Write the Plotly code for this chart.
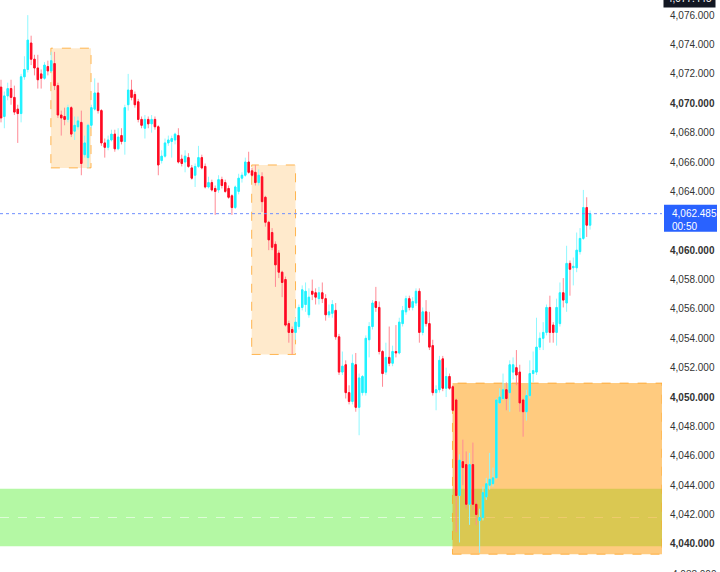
import plotly.graph_objects as go

# ---------------- data ----------------
OPEN = [4071.1, 4069.1, 4070.5, 4071.0, 4070.4, 4069.6, 4069.3, 4071.8, 4072.3, 4074.1,
        4073.0, 4072.4, 4072.0, 4071.7, 4072.5, 4072.2, 4072.7, 4071.2, 4069.2, 4069.1,
        4068.9, 4069.7, 4068.1, 4068.4, 4068.7, 4066.5, 4066.3, 4068.5, 4069.6, 4070.7,
        4069.5, 4067.3, 4067.0, 4067.5, 4067.9, 4066.9, 4067.8, 4067.4, 4069.9, 4070.9,
        4070.6, 4070.1, 4068.9, 4068.3, 4068.9, 4068.6, 4068.9, 4068.4, 4066.1, 4066.4,
        4067.3, 4067.4, 4067.5, 4067.8, 4066.2, 4066.0, 4066.3, 4065.6, 4065.1, 4065.7,
        4066.3, 4065.7, 4064.3, 4064.6, 4064.2, 4064.1, 4064.8, 4064.6, 4064.2, 4063.7,
        4062.9, 4064.0, 4064.9, 4065.1, 4066.0, 4065.4, 4065.3, 4064.6, 4065.0, 4063.6,
        4061.9, 4061.2, 4060.4, 4059.8, 4058.5, 4058.0, 4055.0, 4054.6, 4054.4, 4054.8,
        4056.1, 4056.3, 4055.6, 4057.2, 4057.1, 4056.7, 4057.1, 4056.7, 4055.6, 4055.7,
        4055.9, 4054.1, 4051.7, 4052.2, 4050.3, 4049.7, 4052.2, 4049.3, 4050.3, 4050.3,
        4053.9, 4054.8, 4056.5, 4056.1, 4053.1, 4051.7, 4052.7, 4052.3, 4053.1, 4053.0,
        4055.0, 4055.8, 4056.7, 4056.1, 4056.4, 4057.2, 4054.4, 4055.8, 4055.0, 4053.5,
        4050.3, 4050.5, 4052.6, 4050.6, 4051.4, 4050.7, 4049.8, 4043.3, 4045.6, 4045.4,
        4042.7, 4045.4, 4042.7, 4041.6, 4041.8, 4043.2, 4044.0, 4044.1, 4044.5, 4049.6,
        4049.9, 4050.5, 4050.3, 4051.7, 4052.0, 4051.7, 4049.8, 4049.0, 4050.1, 4051.6,
        4051.7, 4053.4, 4054.0, 4054.4, 4056.1, 4054.9, 4054.4, 4055.0, 4057.1, 4056.4,
        4059.1, 4058.8, 4058.8, 4059.9, 4060.8, 4062.9, 4061.7]

HIGH = [4071.6, 4070.8, 4071.4, 4071.6, 4071.2, 4069.9, 4072.0, 4073.2, 4076.0, 4074.6,
        4073.3, 4073.3, 4072.3, 4072.8, 4072.9, 4073.5, 4073.5, 4071.4, 4069.5, 4069.7,
        4069.9, 4069.8, 4069.1, 4069.1, 4069.5, 4067.8, 4068.6, 4069.9, 4071.7, 4071.4,
        4069.6, 4067.6, 4067.8, 4068.2, 4068.2, 4068.3, 4068.3, 4069.9, 4072.0, 4071.6,
        4070.8, 4070.3, 4069.1, 4069.2, 4069.1, 4069.2, 4069.1, 4068.5, 4066.8, 4067.6,
        4067.8, 4067.8, 4068.0, 4068.3, 4066.5, 4066.8, 4066.6, 4065.8, 4065.9, 4067.1,
        4066.5, 4065.9, 4065.0, 4064.8, 4064.4, 4065.1, 4065.0, 4064.8, 4064.4, 4063.8,
        4064.4, 4065.2, 4065.3, 4066.3, 4066.7, 4065.6, 4065.8, 4065.5, 4065.3, 4063.7,
        4062.0, 4061.5, 4060.6, 4060.0, 4058.6, 4058.2, 4055.2, 4054.8, 4055.4, 4056.3,
        4057.6, 4057.8, 4057.4, 4058.0, 4057.4, 4057.5, 4057.8, 4057.0, 4056.3, 4056.6,
        4056.4, 4054.3, 4053.1, 4052.5, 4050.8, 4052.9, 4053.0, 4051.6, 4051.5, 4054.2,
        4055.1, 4056.6, 4057.5, 4056.5, 4053.2, 4053.7, 4054.8, 4053.5, 4054.9, 4055.4,
        4056.2, 4056.9, 4056.9, 4056.8, 4057.4, 4057.4, 4056.1, 4056.6, 4055.8, 4053.9,
        4050.8, 4052.8, 4052.8, 4052.0, 4051.6, 4050.8, 4049.9, 4046.1, 4047.1, 4046.3,
        4046.2, 4046.9, 4043.0, 4042.4, 4043.9, 4044.5, 4046.2, 4045.2, 4049.9, 4050.6,
        4051.6, 4051.0, 4052.5, 4052.7, 4053.2, 4052.2, 4049.9, 4050.5, 4052.5, 4053.1,
        4055.4, 4054.4, 4055.1, 4056.3, 4056.9, 4055.1, 4056.7, 4057.8, 4058.1, 4060.3,
        4059.3, 4059.5, 4061.2, 4061.5, 4064.1, 4063.6, 4062.7]

LOW = [4068.7, 4068.3, 4070.2, 4069.9, 4069.2, 4067.3, 4068.7, 4071.6, 4072.1, 4072.6,
       4071.9, 4071.0, 4071.0, 4071.6, 4071.9, 4072.1, 4070.9, 4069.0, 4067.8, 4068.5,
       4068.7, 4067.7, 4067.5, 4068.2, 4065.1, 4066.3, 4065.6, 4068.3, 4069.5, 4069.3,
       4067.1, 4066.3, 4066.8, 4067.4, 4066.7, 4066.8, 4067.2, 4066.5, 4069.5, 4070.2,
       4069.7, 4068.7, 4068.3, 4067.6, 4068.3, 4068.0, 4068.2, 4065.1, 4065.9, 4066.3,
       4067.1, 4066.3, 4067.2, 4065.9, 4065.7, 4065.3, 4065.6, 4064.8, 4064.3, 4065.6,
       4065.5, 4064.2, 4064.2, 4064.0, 4062.4, 4063.9, 4064.2, 4063.9, 4063.5, 4062.4,
       4062.8, 4063.8, 4064.6, 4065.0, 4065.2, 4065.0, 4064.4, 4064.4, 4062.6, 4061.6,
       4060.0, 4060.0, 4057.5, 4058.1, 4056.8, 4054.8, 4053.7, 4052.9, 4053.9, 4054.6,
       4055.9, 4055.8, 4055.4, 4056.6, 4056.3, 4056.3, 4056.4, 4055.2, 4055.4, 4055.4,
       4053.9, 4051.5, 4051.5, 4049.9, 4049.5, 4049.5, 4049.0, 4047.4, 4050.1, 4050.1,
       4052.7, 4054.6, 4055.8, 4052.9, 4050.7, 4051.5, 4052.1, 4052.1, 4052.7, 4052.9,
       4054.8, 4055.6, 4055.9, 4055.9, 4056.2, 4053.7, 4054.2, 4054.8, 4053.2, 4050.1,
       4049.1, 4050.3, 4050.4, 4050.0, 4050.5, 4049.0, 4040.8, 4040.1, 4044.0, 4042.4,
       4041.3, 4042.3, 4041.3, 4039.4, 4041.6, 4043.0, 4043.7, 4043.9, 4044.4, 4049.5,
       4049.8, 4049.1, 4049.0, 4051.2, 4050.8, 4049.0, 4047.3, 4048.4, 4049.9, 4051.0,
       4051.5, 4053.2, 4053.2, 4054.2, 4053.7, 4053.7, 4053.5, 4054.8, 4056.1, 4055.8,
       4056.9, 4057.6, 4058.5, 4059.7, 4060.7, 4060.9, 4061.4]

CLOSE = [4069.0, 4070.5, 4071.0, 4070.4, 4069.4, 4069.3, 4071.8, 4072.3, 4074.3, 4073.0,
         4072.4, 4071.6, 4071.7, 4072.6, 4072.2, 4072.9, 4071.2, 4069.2, 4069.0, 4068.9,
         4069.7, 4067.9, 4068.5, 4068.8, 4065.9, 4067.3, 4068.5, 4069.7, 4070.7, 4069.5,
         4067.3, 4067.0, 4067.5, 4067.9, 4066.9, 4067.7, 4067.4, 4069.7, 4070.9, 4070.4,
         4069.9, 4068.9, 4068.5, 4068.9, 4068.6, 4068.9, 4068.4, 4065.8, 4066.4, 4067.3,
         4067.5, 4067.6, 4067.9, 4066.0, 4065.9, 4066.4, 4065.7, 4064.9, 4065.7, 4066.3,
         4065.6, 4064.3, 4064.6, 4064.1, 4064.0, 4064.8, 4064.4, 4064.0, 4063.6, 4062.9,
         4064.3, 4064.9, 4065.1, 4066.0, 4065.3, 4065.1, 4064.6, 4065.1, 4063.3, 4061.9,
         4060.7, 4060.2, 4059.0, 4058.5, 4057.8, 4054.9, 4054.4, 4054.4, 4055.1, 4056.1,
         4057.3, 4057.2, 4056.8, 4057.0, 4056.8, 4057.1, 4056.7, 4055.6, 4055.8, 4056.3,
         4054.1, 4051.7, 4052.1, 4050.3, 4049.7, 4052.3, 4049.3, 4051.3, 4051.4, 4054.0,
         4054.8, 4056.4, 4056.1, 4053.1, 4051.6, 4052.7, 4052.3, 4053.1, 4053.0, 4055.1,
         4055.9, 4056.7, 4056.1, 4056.5, 4057.2, 4054.4, 4055.8, 4055.0, 4053.4, 4050.3,
         4050.5, 4052.5, 4050.6, 4051.4, 4050.6, 4049.1, 4043.3, 4045.7, 4045.2, 4042.7,
         4045.4, 4042.7, 4042.0, 4041.8, 4043.5, 4044.1, 4044.4, 4044.5, 4049.8, 4050.0,
         4050.5, 4049.9, 4052.2, 4052.2, 4051.5, 4049.6, 4049.0, 4050.1, 4051.6, 4051.8,
         4053.4, 4054.0, 4054.4, 4056.1, 4054.4, 4054.4, 4056.1, 4057.1, 4056.6, 4059.1,
         4058.7, 4058.9, 4060.0, 4060.8, 4062.9, 4061.7, 4062.485]

BAR_INDEX = list(range(len(CLOSE)))

LAST_PRICE = 4062.485
LAST_PRICE_TEXT = "4,062.485"
COUNTDOWN_TEXT = "00:50"
TOP_LABEL_TEXT = "4,077.445"
TOP_LABEL_PRICE = 4076.7

TICK_VALUES = [4040, 4042, 4044, 4046, 4048, 4050, 4052, 4054, 4056, 4058,
               4060, 4062, 4064, 4066, 4068, 4070, 4072, 4074, 4076]
TICK_SKIP = [4062]          # hidden behind the last-price label
TICK_BOLD = [4040, 4050, 4060, 4070]
BOTTOM_CUT_TICK = 4038

# supply/demand zones: (start bar, end bar, top price, bottom price)
ZONE_START = [14.9, 74.9, 134.9]
ZONE_END = [26.9, 88.0, None]      # None -> extends to the right edge
ZONE_TOP = [4073.75, 4065.8, 4050.95]
ZONE_BOTTOM = [4065.6, 4052.9, 4039.3]
ZONE_STRONG = [False, False, True]

GREEN_TOP = 4043.75
GREEN_BOTTOM = 4039.85

Y_RANGE = [4038.09, 4077.03]
X_RANGE = [-0.3, 197.5]

UP_BODY, UP_WICK = "#1FF2FF", "#8FF8FF"
DN_BODY, DN_WICK = "#FF0A22", "#FF8A95"
FONT = "Liberation Sans, Arial, sans-serif"

# ---------------- figure ----------------
fig = go.Figure()

# wicks (lighter colour)
fig.add_trace(go.Candlestick(
    x=BAR_INDEX, open=OPEN, high=HIGH, low=LOW, close=CLOSE,
    increasing=dict(line=dict(color=UP_WICK, width=1), fillcolor=UP_WICK),
    decreasing=dict(line=dict(color=DN_WICK, width=1), fillcolor=DN_WICK),
    whiskerwidth=0, hoverinfo="skip", showlegend=False))

# bodies (saturated colour)
body_hi = [max(o, c) for o, c in zip(OPEN, CLOSE)]
body_lo = [min(o, c) for o, c in zip(OPEN, CLOSE)]
fig.add_trace(go.Candlestick(
    x=BAR_INDEX, open=OPEN, high=body_hi, low=body_lo, close=CLOSE,
    increasing=dict(line=dict(color=UP_BODY, width=1), fillcolor=UP_BODY),
    decreasing=dict(line=dict(color=DN_BODY, width=1), fillcolor=DN_BODY),
    whiskerwidth=0, hoverinfo="skip", showlegend=False))

shapes = []
# green band (below everything)
shapes.append(dict(type="rect", xref="paper", x0=0, x1=1, yref="y",
                   y0=GREEN_BOTTOM, y1=GREEN_TOP, fillcolor="#B4F8A4",
                   line=dict(width=0), layer="below"))
shapes.append(dict(type="line", xref="paper", x0=0, x1=1, yref="y",
                   y0=(GREEN_TOP + GREEN_BOTTOM) / 2, y1=(GREEN_TOP + GREEN_BOTTOM) / 2,
                   line=dict(color="rgba(255,255,255,0.55)", width=1, dash="dash"),
                   layer="below"))
for s, e, t, b, strong in zip(ZONE_START, ZONE_END, ZONE_TOP, ZONE_BOTTOM, ZONE_STRONG):
    shapes.append(dict(type="rect", xref="x", x0=s, x1=(e if e is not None else X_RANGE[1]),
                       yref="y", y0=b, y1=t,
                       fillcolor="rgba(255,152,0,0.5)" if strong else "rgba(255,152,0,0.2)",
                       line=dict(color="rgba(255,160,30,0.75)", width=1, dash="dash"),
                       layer="below"))
# last price dotted line
shapes.append(dict(type="line", xref="paper", x0=0, x1=1, yref="y",
                   y0=LAST_PRICE, y1=LAST_PRICE,
                   line=dict(color="#6F8FFF", width=1, dash="dot")))
# last price label box
shapes.append(dict(type="rect", xref="paper", xsizemode="pixel", xanchor=1, x0=2, x1=55,
                   yref="y", ysizemode="pixel", yanchor=LAST_PRICE, y0=-18, y1=9,
                   fillcolor="#2962FF", line=dict(width=0)))

ticktext = []
tickvals = []
for v in TICK_VALUES:
    if v in TICK_SKIP:
        continue
    txt = f"{v:,.3f}"
    tickvals.append(v)
    ticktext.append(f"<b>{txt}</b>" if v in TICK_BOLD else txt)

# paper position of the partially visible tick below the range
bottom_tick_paper = (BOTTOM_CUT_TICK - Y_RANGE[0]) / (Y_RANGE[1] - Y_RANGE[0])

annotations = [
    dict(xref="paper", x=1, xanchor="left", xshift=8, yref="y", y=LAST_PRICE,
         yanchor="top", yshift=8, showarrow=False, align="left",
         text=f"{LAST_PRICE_TEXT}<br>{COUNTDOWN_TEXT}",
         font=dict(family=FONT, size=10, color="white")),
    dict(xref="paper", x=1, xanchor="left", xshift=1, yref="y", y=TOP_LABEL_PRICE,
         yanchor="bottom", yshift=-3, showarrow=False, text=TOP_LABEL_TEXT, bgcolor="#131722",
         borderpad=3, font=dict(family=FONT, size=10, color="white")),
    dict(xref="paper", x=1, xanchor="left", xshift=8, yref="paper", y=bottom_tick_paper,
         yanchor="middle", yshift=-1, showarrow=False, text=f"{BOTTOM_CUT_TICK:,.3f}",
         font=dict(family=FONT, size=10, color="#333333")),
]

fig.update_layout(
    width=720, height=572,
    margin=dict(l=0, r=58, t=0, b=0),
    paper_bgcolor="white", plot_bgcolor="white",
    showlegend=False,
    boxgap=0.4,
    shapes=shapes,
    annotations=annotations,
    xaxis=dict(range=X_RANGE, visible=False, rangeslider=dict(visible=False),
               showgrid=False, zeroline=False, fixedrange=True),
    yaxis=dict(range=Y_RANGE, side="right", tickvals=tickvals, ticktext=ticktext,
               showgrid=False, zeroline=False, showline=False, ticks="",
               ticklabelstandoff=7,
               tickfont=dict(family=FONT, size=10, color="#333333")),
)

fig.write_html("out.html")
